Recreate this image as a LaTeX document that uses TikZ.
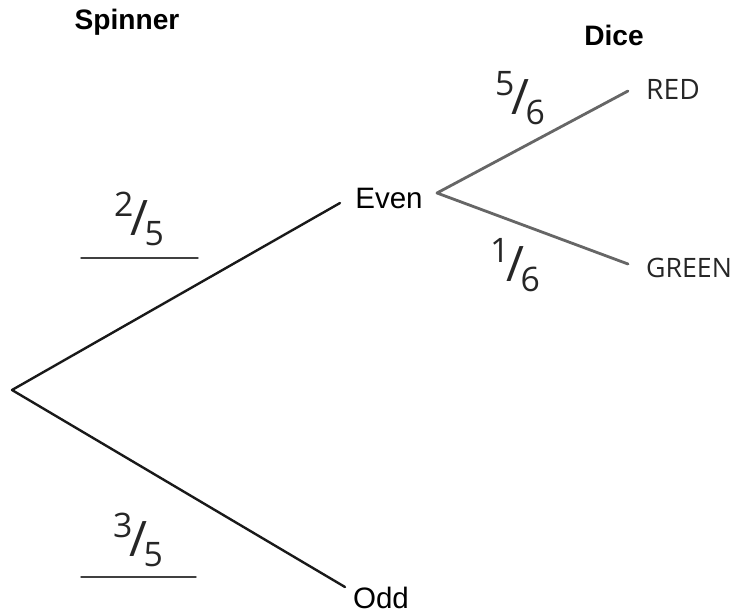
\documentclass[tikz,border=0pt]{standalone}
\usepackage{fontspec}
\setmainfont{Liberation Sans}
\newfontfamily\handfont{Open Sans}
\newcommand{\slfrac}[2]{\raisebox{0.42em}{#1}\kern-0.1em\raisebox{-0.15em}{\scalebox{1.45}{/}}\kern-0.1em\raisebox{-0.45em}{#2}}
\begin{document}
\begin{tikzpicture}[x=0.025cm, y=-0.025cm, line join=round, line cap=round,
	label/.style={font=\fontsize{21}{24}\selectfont, inner sep=0pt},
	head/.style={font=\fontsize{20}{24}\selectfont\bfseries, inner sep=0pt},
	hand/.style={font=\handfont\fontsize{20}{24}\selectfont, inner sep=0pt, text=black!85},
	prob/.style={font=\handfont\fontsize{24}{28}\selectfont, inner sep=0pt, text=black!85},
	spin/.style={line width=1.7pt, black!90},
	die/.style={line width=2pt, black!60}]
	\useasboundingbox (0,0) rectangle (739,614);
	% headings
	\path (127,22) node[head] (spinner) {Spinner} (614,35) node[head] (dice) {Dice};
	% spinner branches
	\coordinate (root) at (12,390);
	\path (389,198) node[label] (even) {Even} (381,598) node[label] (odd) {Odd};
	\coordinate (evenin) at (340,203);
	\coordinate (oddin) at (345,587);
	\draw [spin] (evenin)--(root)--(oddin);
	% dice branches
	\coordinate (evenout) at (437,193);
	\path (673,89) node[hand] (red) {RED} (689,268) node[hand, font=\handfont\fontsize{19}{24}\selectfont] (green) {GREEN};
	\coordinate (redin) at (628,91);
	\coordinate (greenin) at (628,264);
	\draw [die] (redin)--(evenout)--(greenin);
	% probabilities
	\path (139,219) node[prob] (ptwo) {\slfrac{2}{5}} (138,540) node[prob] (pthree) {\slfrac{3}{5}};
	\path (520,98) node[prob] (pfive) {\slfrac{5}{6}} (515,265) node[prob] (pone) {\slfrac{1}{6}};
	\coordinate (ul1) at (81,258); \coordinate (ur1) at (198,258);
	\coordinate (ul2) at (81,577); \coordinate (ur2) at (196,577);
	\draw [line width=1pt, black!75] (ul1)--(ur1) (ul2)--(ur2);
\end{tikzpicture}
\end{document}
